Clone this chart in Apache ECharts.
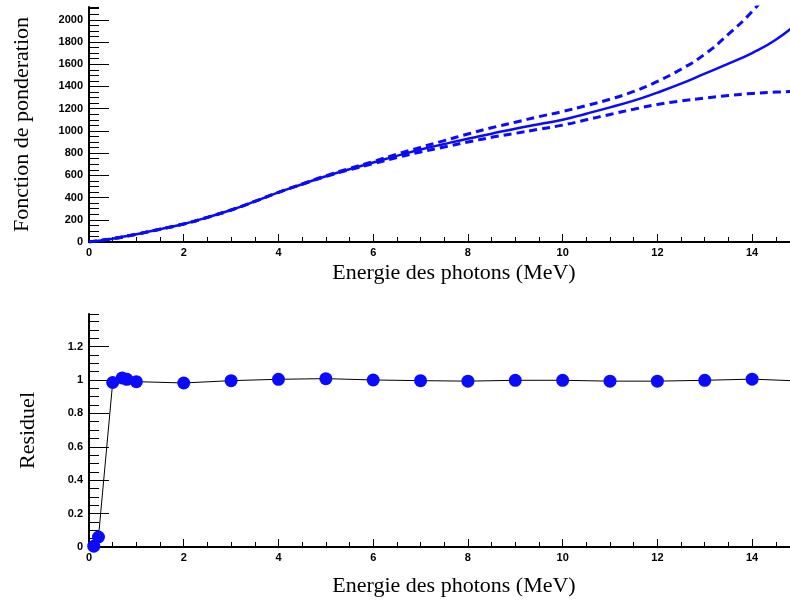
<!DOCTYPE html>
<html>
<head>
<meta charset="utf-8">
<script src="https://cdn.jsdelivr.net/npm/echarts@6/dist/echarts.min.js"></script>
<style>html,body{margin:0;padding:0;background:#fff;}#c{width:790px;height:601px;}</style>
</head>
<body>
<div id="c"></div>
<script>
// ---- data ----
const energyGrid = [0,0.5,1,1.5,2,2.5,3,3.5,4,4.5,5,5.5,6,6.5,7,7.5,8,8.5,9,9.5,10,10.5,11,11.5,12,12.5,13,13.5,14,14.5,15];
const weightCentral = [0,30,70,115,162,222,288,365,447,520,592,655,715,775,832,882,930,975,1020,1060,1100,1155,1212,1272,1345,1425,1515,1605,1700,1820,1985];
const weightUpper   = [0,30,70,115,162,222,288,365,447,522,596,662,725,790,852,912,972,1028,1078,1128,1175,1228,1285,1355,1445,1555,1690,1870,2075,2330,2600];
const weightLower   = [0,30,70,115,162,222,288,365,447,520,590,650,705,760,810,855,900,942,978,1015,1052,1100,1148,1195,1238,1270,1295,1318,1337,1349,1356];
const residEnergy = [0.1,0.2,0.5,0.7,0.8,1,2,3,4,5,6,7,8,9,10,11,12,13,14,15];
const residValue  = [0.005,0.06,0.985,1.012,1.004,0.99,0.982,0.996,1.004,1.008,1.0,0.996,0.993,0.998,0.998,0.993,0.993,0.998,1.005,0.994];
const xTitle = 'Energie des photons (MeV)';
const yTitleTop = 'Fonction de ponderation';
const yTitleBottom = 'Residuel';

const pair = (xs, ys) => xs.map((x, i) => [x, ys[i]]);
const chart = echarts.init(document.getElementById('c'), null, {renderer: 'canvas'});
const X_MAX = 14.8, Y1_MAX = 2115, Y2_MAX = 1.395;
const labFont = {fontFamily: 'Liberation Sans, Arial, sans-serif', fontWeight: 'bold', fontSize: 11, color: '#000'};
const titleFont = {fontFamily: 'Liberation Serif, Times New Roman, serif', fontSize: 22, color: '#000'};
const blue = '#0a0aff';
const plain = v => String(Math.round(v * 1000) / 1000);

function xAxes(gi, showName, gap) {
  return [
    {gridIndex: gi, type: 'value', min: 0, max: X_MAX, interval: 2, position: 'bottom',
     axisLine: {show: true, onZero: false, lineStyle: {color: '#000', width: 2}},
     axisTick: {inside: true, length: 8, lineStyle: {color: '#000', width: 1}},
     axisLabel: Object.assign({margin: 5, showMaxLabel: false, formatter: v => (Math.abs(v % 2) < 1e-9 ? plain(v) : '')}, labFont),
     splitLine: {show: false},
     name: showName ? xTitle : '', nameLocation: 'middle', nameGap: gap,
     nameTextStyle: Object.assign({padding: [0, 0, 0, 29]}, titleFont)},
    {gridIndex: gi, type: 'value', min: 0, max: X_MAX, interval: 0.5, position: 'bottom',
     axisLine: {show: false}, axisTick: {inside: true, length: 5, lineStyle: {color: '#000', width: 1}},
     axisLabel: {show: false}, splitLine: {show: false}},
    {gridIndex: gi, type: 'value', min: 0, max: X_MAX, position: 'top',
     axisLine: {show: true, lineStyle: {color: '#000', width: 2}}, axisTick: {show: false},
     axisLabel: {show: false}, splitLine: {show: false}}
  ];
}
function yAxes(gi, max, major, minor, name, gap) {
  return [
    {gridIndex: gi, type: 'value', min: 0, max: max, interval: major, position: 'left',
     axisLine: {show: true, onZero: false, lineStyle: {color: '#000', width: 2}},
     axisTick: {inside: true, length: 20, lineStyle: {color: '#000', width: 1}},
     axisLabel: Object.assign({margin: 6, showMaxLabel: false, formatter: plain}, labFont),
     splitLine: {show: false},
     name: name, nameLocation: 'middle', nameGap: gap, nameRotate: 90, nameTextStyle: titleFont},
    {gridIndex: gi, type: 'value', min: 0, max: max, interval: minor, position: 'left',
     axisLine: {show: false}, axisTick: {inside: true, length: 10, lineStyle: {color: '#000', width: 1}},
     axisLabel: {show: false}, splitLine: {show: false}}
  ];
}

const option = {
  animation: false,
  backgroundColor: '#fff',
  grid: [
    {left: 89, right: 0, top: 7, height: 235},
    {left: 89, right: 0, top: 314, height: 233}
  ],
  xAxis: [].concat(xAxes(0, true, 20), xAxes(1, true, 28)),
  yAxis: [].concat(yAxes(0, Y1_MAX, 200, 50, yTitleTop, 56), yAxes(1, Y2_MAX, 0.2, 0.05, yTitleBottom, 50)),
  series: [
    {type: 'line', xAxisIndex: 0, yAxisIndex: 0, data: pair(energyGrid, weightUpper), smooth: true, showSymbol: false, clip: true,
     lineStyle: {color: blue, width: 3, type: [8, 5]}},
    {type: 'line', xAxisIndex: 0, yAxisIndex: 0, data: pair(energyGrid, weightLower), smooth: true, showSymbol: false, clip: true,
     lineStyle: {color: blue, width: 3, type: [8, 5]}},
    {type: 'line', xAxisIndex: 0, yAxisIndex: 0, data: pair(energyGrid, weightCentral), smooth: true, showSymbol: false, clip: true,
     lineStyle: {color: blue, width: 2.5}},
    {type: 'line', xAxisIndex: 3, yAxisIndex: 2, data: pair(residEnergy, residValue), clip: true,
     symbol: 'circle', symbolSize: 13, showSymbol: true,
     itemStyle: {color: blue, borderWidth: 0},
     lineStyle: {color: '#000', width: 1}}
  ]
};
chart.setOption(option);
</script>
</body>
</html>
